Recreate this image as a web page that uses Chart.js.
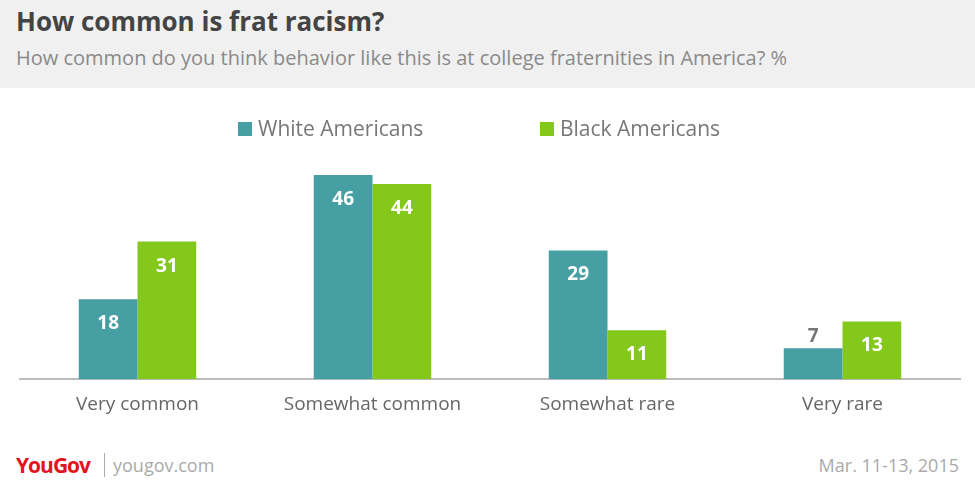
<!DOCTYPE html>
<html><head><meta charset="utf-8">
<script src="https://cdn.jsdelivr.net/npm/chart.js@4"></script>
<style>
body{margin:0;width:975px;height:495px;background:#fff;font-family:"Open Sans",sans-serif;position:relative;overflow:hidden}
#head{position:absolute;left:0;top:0;width:975px;height:88px;background:#f0f0f0}
#title{position:absolute;left:16px;top:3px;font-size:26px;font-weight:bold;color:#444}
#sub{position:absolute;left:16px;top:44px;font-size:20px;color:#8a8a8a}
#wrap{position:absolute;left:0;top:100px;width:975px;height:330px}
.lg{position:absolute;top:114px;font-size:21px;color:#777}
.lg i{display:inline-block;width:14px;height:14px;margin-right:6px;vertical-align:0}
#logo{position:absolute;left:16px;top:451px;font-size:21px;font-weight:bold;color:#e3141f;letter-spacing:-1px}
#site{position:absolute;left:104px;top:453px;font-size:18px;color:#aaa;border-left:1px solid #aaa;padding-left:8px}
#date{position:absolute;right:16px;top:453px;font-size:18px;color:#aaa}
</style></head><body>
<div id="head"><div id="title">How common is frat racism?</div>
<div id="sub">How common do you think behavior like this is at college fraternities in America? %</div></div>
<div id="wrap"><canvas id="c"></canvas></div>
<div class="lg" style="left:238px"><i style="background:#469fa3"></i>White Americans</div>
<div class="lg" style="left:540px"><i style="background:#84c81c"></i>Black Americans</div>
<div id="logo">YouGov</div><div id="site">yougov.com</div><div id="date">Mar. 11-13, 2015</div>
<script>
const categories = ["Very common", "Somewhat common", "Somewhat rare", "Very rare"];
const whiteVals = [18, 46, 29, 7];
const blackVals = [31, 44, 11, 13];
const teal = "#469fa3", green = "#84c81c";

const valueLabels = {
  id: "valueLabels",
  afterDatasetsDraw(chart) {
    const ctx = chart.ctx;
    ctx.save();
    ctx.font = "bold 19px 'Open Sans'";
    ctx.textAlign = "center";
    chart.data.datasets.forEach((ds, i) => {
      chart.getDatasetMeta(i).data.forEach((bar, j) => {
        const v = ds.data[j];
        const h = bar.base - bar.y;
        if (h > 36) { ctx.fillStyle = "#fff"; ctx.fillText(v, bar.x, bar.y + 30); }
        else { ctx.fillStyle = "#777"; ctx.fillText(v, bar.x, bar.y - 6); }
      });
    });
    ctx.restore();
  }
};

new Chart(document.getElementById("c"), {
  type: "bar",
  data: {
    labels: categories,
    datasets: [
      { label: "White Americans", data: whiteVals, backgroundColor: teal },
      { label: "Black Americans", data: blackVals, backgroundColor: green },
    ],
  },
  options: {
    responsive: true,
    maintainAspectRatio: false,
    animation: false,
    layout: { padding: { left: 20, right: 15, top: 75 } },
    datasets: { bar: { categoryPercentage: 0.5, barPercentage: 1 } },
    plugins: { tooltip: { enabled: false }, legend: { display: false } },
    scales: {
      x: {
        grid: { display: false, drawTicks: false },
        border: { color: "#bbb", width: 2 },
        ticks: { color: "#666", font: { size: 19, family: "'Open Sans'" }, padding: 14 },
      },
      y: { display: false, min: 0, max: 46 },
    },
  },
  plugins: [valueLabels],
});
</script></body></html>
